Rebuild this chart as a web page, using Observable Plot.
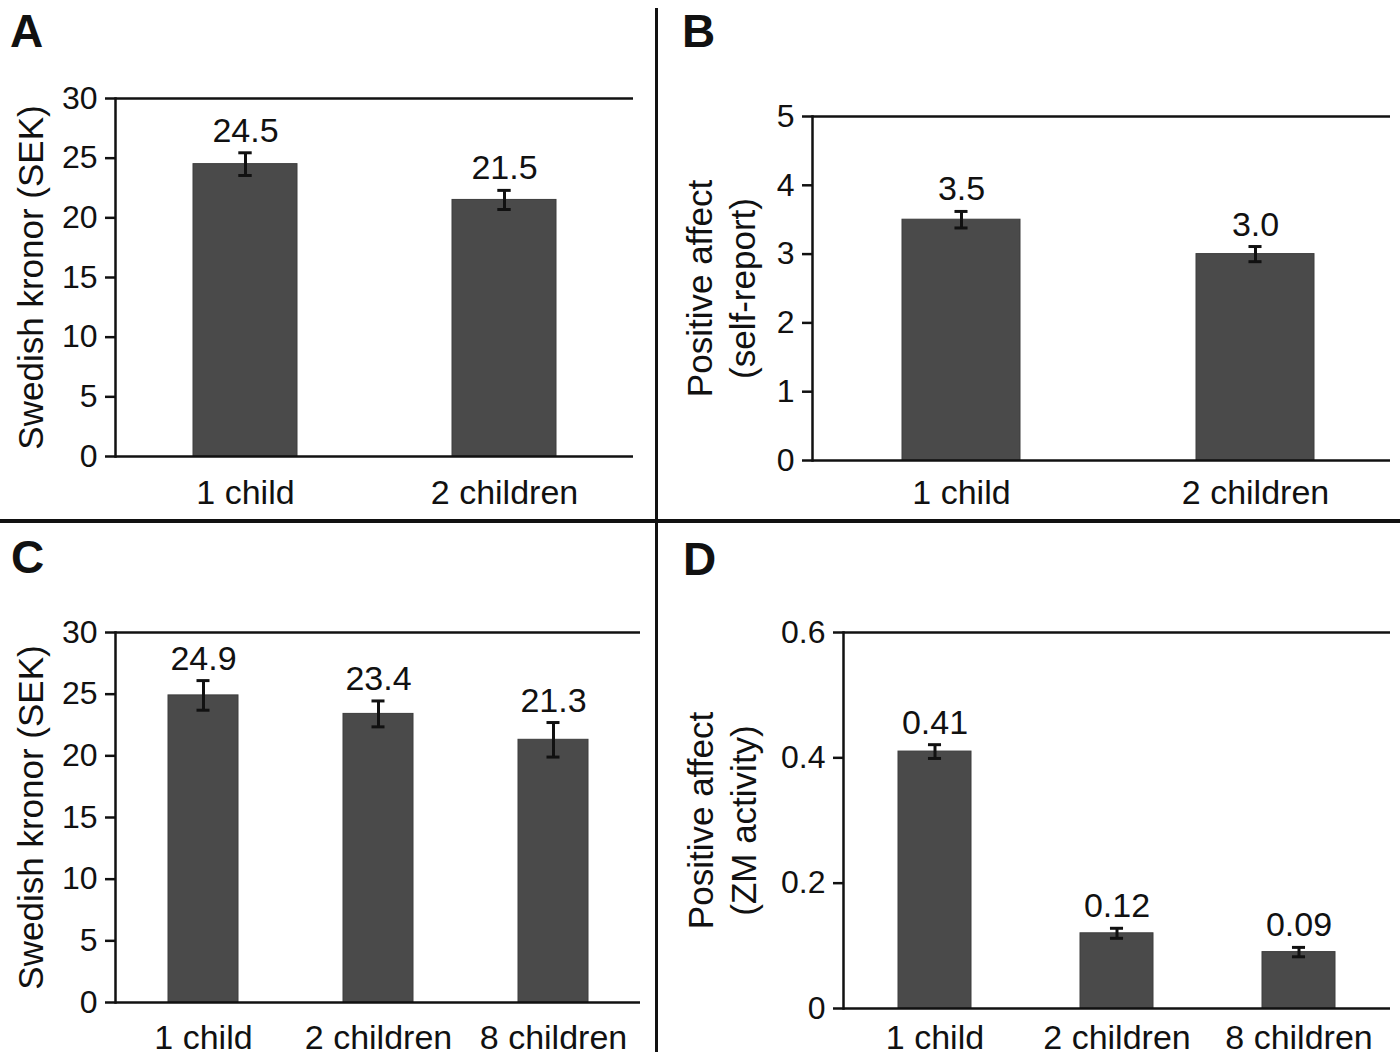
<!DOCTYPE html>
<html><head><meta charset="utf-8">
<script src="https://cdn.jsdelivr.net/npm/d3@7"></script>
<script src="https://cdn.jsdelivr.net/npm/@observablehq/plot@0.6"></script>
<style>
html,body{margin:0;padding:0;background:#fff;}
#fig{position:relative;width:1400px;height:1060px;font-family:"Liberation Sans",Arial,Helvetica,sans-serif;overflow:hidden;background:#fff;color:#111;}
.panel{position:absolute;}
.panel svg{display:block;overflow:visible;}
.letter{position:absolute;font-weight:bold;font-size:46px;line-height:1;color:#111;}
.vdiv{position:absolute;left:655px;top:8px;width:3px;height:1044px;background:#111;}
.hdiv{position:absolute;left:0;top:519px;width:1400px;height:3.5px;background:#111;}
</style></head><body><div id="fig"></div>
<script>
// ---- data ----
const categoriesAB = ["1 child", "2 children"];
const categoriesCD = ["1 child", "2 children", "8 children"];

const valuesA = [24.5, 21.5];
const errorsA = [0.95, 0.8];
const labelsA = ["24.5", "21.5"];

const valuesB = [3.5, 3.0];
const errorsB = [0.12, 0.11];
const labelsB = ["3.5", "3.0"];

const valuesC = [24.9, 23.4, 21.3];
const errorsC = [1.2, 1.05, 1.4];
const labelsC = ["24.9", "23.4", "21.3"];

const valuesD = [0.41, 0.12, 0.09];
const errorsD = [0.011, 0.008, 0.0075];
const labelsD = ["0.41", "0.12", "0.09"];

const ticksA = [0, 5, 10, 15, 20, 25, 30];
const ticksB = [0, 1, 2, 3, 4, 5];
const ticksC = [0, 5, 10, 15, 20, 25, 30];
const ticksD = [0, 0.2, 0.4, 0.6];

const titleA = "Swedish kronor (SEK)";
const titleB = "Positive affect\n(self-report)";
const titleC = "Swedish kronor (SEK)";
const titleD = "Positive affect\n(ZM activity)";

const FONT = '"Liberation Sans", Arial, Helvetica, sans-serif';

function panel(cfg) {
  const data = cfg.cats.map((c, i) => ({cat: c, v: cfg.values[i], e: cfg.errors[i], label: cfg.labels[i]}));
  const n = data.length;
  const innerW = cfg.width - cfg.ml - cfg.mr;
  const step = innerW / (n - cfg.pi + 2 * cfg.po);
  const bw = step * (1 - cfg.pi);
  const capInset = Math.max(0, (bw - 13) / 2);
  const ymax = cfg.ticks[cfg.ticks.length - 1];
  return Plot.plot({
    width: cfg.width,
    height: cfg.height,
    marginLeft: cfg.ml,
    marginRight: cfg.mr,
    marginTop: cfg.mt,
    marginBottom: cfg.mb,
    style: {fontFamily: FONT, fontSize: "32px", color: "#111", background: "transparent", overflow: "visible"},
    x: {domain: cfg.cats, paddingInner: cfg.pi, paddingOuter: cfg.po, align: cfg.align, axis: null},
    y: {domain: [0, ymax], axis: null},
    marks: [
      Plot.barY(data, {x: "cat", y: "v", fill: "#4a4a4a", stroke: "#3d3d3d", strokeWidth: 1}),
      Plot.ruleX(data, {x: "cat", y1: d => d.v - d.e, y2: d => d.v + d.e, stroke: "#111", strokeWidth: 3}),
      Plot.tickY(data, {x: "cat", y: d => d.v - d.e, insetLeft: capInset, insetRight: capInset, stroke: "#111", strokeWidth: 3}),
      Plot.tickY(data, {x: "cat", y: d => d.v + d.e, insetLeft: capInset, insetRight: capInset, stroke: "#111", strokeWidth: 3}),
      Plot.text(data, {x: "cat", y: d => d.v + d.e, text: "label", lineAnchor: "bottom", dy: -11, fontSize: 34, fill: "#111"}),
      Plot.ruleY([0, ymax], {stroke: "#111", strokeWidth: 2.5}),
      Plot.frame({anchor: "left", stroke: "#111", strokeWidth: 2.5}),
      Plot.axisY({ticks: cfg.ticks, tickSize: 10, tickPadding: 8, tickFormat: d => String(d), fontSize: 32, stroke: "#111", strokeWidth: 2.5, label: null}),
      Plot.axisX({tickSize: 0, tickPadding: cfg.xpad, fontSize: 34, label: null}),
      Plot.text([cfg.title], {text: d => d, frameAnchor: "left", rotate: -90, dx: cfg.titleDx, textAnchor: "middle", lineAnchor: "middle", fontSize: 35, lineHeight: 1.25, fill: "#111"})
    ]
  });
}

const fig = document.getElementById("fig");
function place(node, left, top) {
  const d = document.createElement("div");
  d.className = "panel";
  d.style.left = left + "px";
  d.style.top = top + "px";
  d.appendChild(node);
  fig.appendChild(d);
}

place(panel({cats: categoriesAB, values: valuesA, errors: errorsA, labels: labelsA, ticks: ticksA, title: titleA,
  width: 655, height: 518, ml: 115, mr: 22, mt: 98, mb: 62, pi: 0.6, po: 0.3, align: 0.5, xpad: 23, titleDx: -87}), 0, 0);
place(panel({cats: categoriesAB, values: valuesB, errors: errorsB, labels: labelsB, ticks: ticksB, title: titleB,
  width: 740, height: 518, ml: 152, mr: 10, mt: 116, mb: 58, pi: 0.6, po: 0.28, align: 0.54, xpad: 19, titleDx: -93}), 660, 0);
place(panel({cats: categoriesCD, values: valuesC, errors: errorsC, labels: labelsC, ticks: ticksC, title: titleC,
  width: 655, height: 540, ml: 115, mr: 15, mt: 112, mb: 58, pi: 0.6, po: 0.3, align: 0.5, xpad: 22, titleDx: -87}), 0, 520);
place(panel({cats: categoriesCD, values: valuesD, errors: errorsD, labels: labelsD, ticks: ticksD, title: titleD,
  width: 740, height: 540, ml: 183, mr: 10, mt: 112, mb: 52, pi: 0.6, po: 0.3, align: 0.5, xpad: 16, titleDx: -123}), 660, 520);

// dividers and panel letters
const v = document.createElement("div"); v.className = "vdiv"; fig.appendChild(v);
const h = document.createElement("div"); h.className = "hdiv"; fig.appendChild(h);
[["A", 10, 8], ["B", 682, 8], ["C", 11, 534], ["D", 683, 536]].forEach(([t, x, y]) => {
  const el = document.createElement("div");
  el.className = "letter";
  el.textContent = t;
  el.style.left = x + "px";
  el.style.top = y + "px";
  fig.appendChild(el);
});
</script>
</body></html>
